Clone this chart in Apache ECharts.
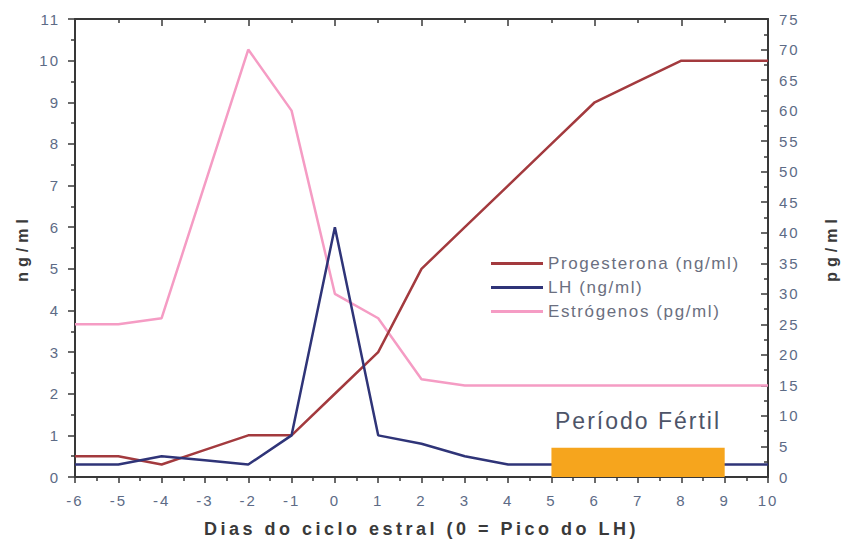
<!DOCTYPE html>
<html><head><meta charset="utf-8">
<script src="https://cdn.jsdelivr.net/npm/echarts@6/dist/echarts.min.js"></script>
<style>html,body{margin:0;padding:0;background:#fff}#c{width:841px;height:540px}</style>
</head><body><div id="c"></div>
<script>
var days = [-6,-5,-4,-3,-2,-1,0,1,2,3,4,5,6,7,8,9,10];
var progesterona = [0.5,0.5,0.3,0.65,1.0,1.0,2.0,3.0,5.0,6.0,7.0,8.0,9.0,9.5,10.0,10.0,10.0];
var lh = [0.3,0.3,0.5,0.4,0.3,1.0,6.0,1.0,0.8,0.5,0.3,0.3,0.3,0.3,0.3,0.3,0.3];
var estrogenos = [25,25,26,48,70,60,30,26,16,15,15,15,15,15,15,15,15];
var seriesNames = ['Progesterona (ng/ml)','LH (ng/ml)','Estrógenos (pg/ml)'];
var xTitle = 'Dias do ciclo estral (0 = Pico do LH)';
var yLeftTitle = 'ng/ml', yRightTitle = 'pg/ml';
var fertileStart = 5, fertileEnd = 9, fertileTop = 0.7;
var fertileLabel = 'Período Fértil';

function pairs(v){ return days.map(function(d,i){ return [d, v[i]]; }); }
var tickColor = '#5d6b86';
var axisCol = '#383838';
var chart = echarts.init(document.getElementById('c'), null, {renderer:'svg'});
chart.setOption({
  animation:false,
  backgroundColor:'#fff',
  textStyle:{fontFamily:'Liberation Sans, Arial, sans-serif'},
  grid:{left:75,right:73,top:19,bottom:63,containLabel:false,outerBoundsMode:'none'},
  legend:{
    orient:'vertical', left:486, top:250, itemGap:7, itemWidth:52, itemHeight:3,
    icon:'rect',
    data:seriesNames,
    textStyle:{color:'#6b6f80', fontSize:17}
  },
  xAxis:[{
    type:'value', min:-6, max:10, interval:1, position:'bottom',
    name:xTitle, nameLocation:'middle', nameGap:43,
    nameTextStyle:{fontSize:18, fontWeight:'bold', color:'#3a3a3a'},
    axisLine:{onZero:false,lineStyle:{color:axisCol,width:2}},
    axisTick:{inside:false,length:6,lineStyle:{color:axisCol,width:1.5}},
    minorTick:{show:true,splitNumber:2,length:4,lineStyle:{color:axisCol,width:1.5}},
    axisLabel:{color:tickColor,fontSize:15,margin:16},
    splitLine:{show:false}
  },{
    type:'value', min:-6, max:10, interval:2, position:'top',
    axisLine:{onZero:false,lineStyle:{color:axisCol,width:2}},
    axisTick:{inside:true,length:7,lineStyle:{color:axisCol,width:1.5}},
    minorTick:{show:true,splitNumber:2,length:4,lineStyle:{color:axisCol,width:1.5}},
    axisLabel:{show:false}, splitLine:{show:false}
  }],
  yAxis:[{
    type:'value', min:0, max:11, interval:1, position:'left',
    name:yLeftTitle, nameLocation:'middle', nameGap:45, nameRotate:90,
    nameTextStyle:{fontSize:16, fontWeight:'bold', color:'#3a3a3a'},
    axisLine:{show:true,onZero:false,lineStyle:{color:axisCol,width:2}},
    axisTick:{inside:false,length:7,lineStyle:{color:axisCol,width:1.5}},
    minorTick:{show:true,splitNumber:2,length:4,lineStyle:{color:axisCol,width:1.5}},
    axisLabel:{color:tickColor,fontSize:15,margin:15},
    splitLine:{show:false}
  },{
    type:'value', min:0, max:75, interval:5, position:'right',
    name:yRightTitle, nameLocation:'middle', nameGap:55, nameRotate:90,
    nameTextStyle:{fontSize:16, fontWeight:'bold', color:'#3a3a3a'},
    axisLine:{show:true,onZero:false,lineStyle:{color:axisCol,width:2}},
    axisTick:{inside:true,length:7,lineStyle:{color:axisCol,width:1.5}},
    minorTick:{show:true,splitNumber:2,length:4,lineStyle:{color:axisCol,width:1.5}},
    axisLabel:{color:tickColor,fontSize:15,margin:11},
    splitLine:{show:false}
  }],
  series:[{
    name:seriesNames[0], type:'line', xAxisIndex:0, yAxisIndex:0, symbol:'none',
    data:pairs(progesterona), lineStyle:{color:'#a33a3e',width:2.5}, itemStyle:{color:'#a33a3e'}, z:3
  },{
    name:seriesNames[1], type:'line', xAxisIndex:0, yAxisIndex:0, symbol:'none',
    data:pairs(lh), lineStyle:{color:'#2f3478',width:2.5}, itemStyle:{color:'#2f3478'}, z:3
  },{
    name:seriesNames[2], type:'line', xAxisIndex:0, yAxisIndex:1, symbol:'none',
    data:pairs(estrogenos), lineStyle:{color:'#f59cc4',width:2.5}, itemStyle:{color:'#f59cc4'}, z:2
  },{
    name:'fertile', type:'line', xAxisIndex:0, yAxisIndex:0, symbol:'none', data:[], z:10,
    markArea:{
      silent:true, z:10,
      itemStyle:{color:'#f6a51d',opacity:1},
      label:{show:true,position:'top',distance:15,color:'#4d5468',fontSize:23,fontFamily:'Liberation Sans, Arial, sans-serif'},
      data:[[{name:fertileLabel,coord:[fertileStart,0]},{coord:[fertileEnd,fertileTop]}]]
    }
  }]
});
function applySpacing(){
  var texts = document.querySelectorAll('#c svg text');
  texts.forEach(function(el){
    var t = el.textContent;
    var s = 2;
    if (t === xTitle) s = 3.5;
    else if (t === yLeftTitle || t === yRightTitle) s = 5;
    else if (t === fertileLabel) s = 2;
    else if (seriesNames.indexOf(t) >= 0) s = 1.6;
    el.style.letterSpacing = s + 'px';
  });
}
chart.on('rendered', applySpacing);
applySpacing();
setTimeout(applySpacing, 50);
</script></body></html>
